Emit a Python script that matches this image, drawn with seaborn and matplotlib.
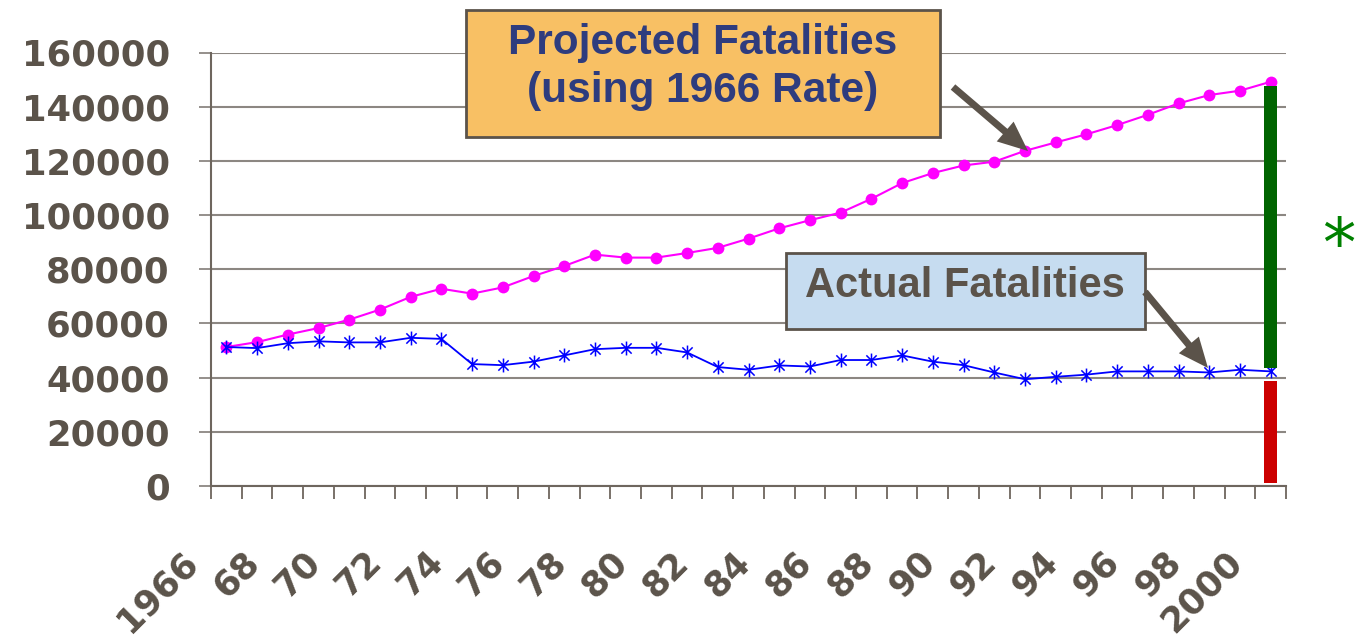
import numpy as np
import pandas as pd
import matplotlib
matplotlib.use("Agg")
import matplotlib.pyplot as plt
import seaborn as sns
from matplotlib.patches import Rectangle, FancyArrow
from matplotlib.path import Path
from matplotlib.transforms import ScaledTranslation, IdentityTransform

# ---------------- data ----------------
years = list(range(1966, 2001))
year_labels = ["1966", "68", "70", "72", "74", "76", "78", "80", "82", "84",
               "86", "88", "90", "92", "94", "96", "98", "2000"]
projected = [51300, 53100, 55900, 58300, 61400, 65100, 69800, 72800, 71000, 73300,
             77500, 81200, 85400, 84300, 84300, 86000, 87900, 91300, 95100, 98100,
             100900, 106000, 111800, 115500, 118300, 119700, 123700, 126800, 129800,
             133200, 137000, 141200, 144300, 145900, 149200]
actual = [51300, 50900, 52700, 53400, 53000, 53000, 54700, 54300, 45000, 44600,
          45900, 48200, 50500, 51000, 51000, 49300, 43900, 42900, 44500, 44100,
          46500, 46500, 48200, 45900, 44600, 41900, 39400, 40300, 41100, 42300,
          42300, 42300, 41900, 42900, 42300]
yticks = [0, 20000, 40000, 60000, 80000, 100000, 120000, 140000, 160000]
# vertical bars at year 2000: lives saved (green) and actual (red)
bar_bottoms = [43500, 1000]
bar_tops = [147500, 38800]
bar_colors = ["#006400", "#CC0000"]

TXT = "#5B534A"
GRID = "#8C8782"

sns.set_style("white")
plt.rcParams["font.family"] = ["DejaVu Sans"]

W, H = 1357, 636
fig = plt.figure(figsize=(W / 100, H / 100), dpi=100)
ax = fig.add_axes([211 / W, 1 - 486 / H, (1286 - 211) / W, (486 - 52.5) / H])

idx = np.arange(len(years))
df = pd.DataFrame({"i": idx, "projected": projected, "actual": actual})

sns.lineplot(data=df, x="i", y="projected", ax=ax, color="#FF00FF", lw=1.5,
             marker="o", markersize=8.5, markeredgewidth=0, zorder=4)

ast = Path([(-1, -1), (1, 1), (-1, 1), (1, -1), (0, -1.35), (0, 1.35)],
           [Path.MOVETO, Path.LINETO, Path.MOVETO, Path.LINETO, Path.MOVETO, Path.LINETO])
sns.lineplot(data=df, x="i", y="actual", ax=ax, color="#0000FF", lw=1.3,
             marker=ast, markersize=10, markeredgewidth=1.1,
             markerfacecolor="none", markeredgecolor="#0000FF", zorder=4)

for b, t, c in zip(bar_bottoms, bar_tops, bar_colors):
    ax.bar(idx[-1], t - b, bottom=b, width=0.4, color=c, zorder=5, linewidth=0)

ax.set_xlim(-0.5, len(years) - 0.5)
ax.set_ylim(0, 160000)
ax.set_xlabel("")
ax.set_ylabel("")

ax.set_yticks(yticks)
ax.set_yticklabels([str(v) for v in yticks], fontsize=25.5, fontweight="bold", color=TXT)
ax.grid(axis="y", color=GRID, lw=1.5)
ax.grid(axis="x", visible=False)
ax.set_axisbelow(True)

ax.set_xticks(idx[::2])
ax.set_xticklabels(year_labels, rotation=45, ha="right", va="top",
                   fontsize=25.5, fontweight="bold", color=TXT)
ax.set_xticks(np.arange(-0.5, len(years), 1), minor=True)
ax.tick_params(axis="x", which="major", length=0, pad=42, bottom=True)
ax.tick_params(axis="x", which="minor", length=9, width=1.3, color="#6E665E",
               direction="out", bottom=True)
ax.tick_params(axis="y", length=8.6, width=1.3, color=GRID, pad=21, direction="out", left=True)

off = ScaledTranslation(-22 / 100, 0, fig.dpi_scale_trans)
for lab in ax.get_xticklabels():
    lab.set_transform(lab.get_transform() + off)

for s in ["top", "right"]:
    ax.spines[s].set_visible(False)
for s in ["left", "bottom"]:
    ax.spines[s].set_color("#6E665E")
    ax.spines[s].set_linewidth(1.5)

# ---------------- annotation boxes ----------------
fig.add_artist(Rectangle((466 / W, 1 - 137 / H), 474 / W, 127 / H, transform=fig.transFigure,
                         fc="#F8C064", ec=TXT, lw=2, zorder=10))
fig.text(703 / W, 1 - 67 / H, "Projected Fatalities\n(using 1966 Rate)", ha="center", va="center",
         fontsize=30.5, fontweight="bold", color="#2E3C7E", family=["Liberation Sans", "DejaVu Sans"],
         linespacing=1.25, zorder=11)

fig.add_artist(Rectangle((786 / W, 1 - 329 / H), 359 / W, 76 / H, transform=fig.transFigure,
                         fc="#C6DCF0", ec=TXT, lw=2, zorder=10))
fig.text(965 / W, 1 - 297 / H, "Actual Fatalities", ha="center", va="baseline",
         fontsize=30, fontweight="bold", color=TXT, family=["Liberation Sans", "DejaVu Sans"],
         zorder=11)

for (x0, y0, x1, y1) in [(953, 87, 1028, 151), (1145, 292, 1208, 368)]:
    fig.add_artist(FancyArrow(x0, H - y0, x1 - x0, -(y1 - y0), width=7, head_width=26,
                              head_length=30, length_includes_head=True,
                              transform=IdentityTransform(), color=TXT, lw=0, zorder=12))

fig.text(1339 / W, 1 - 266 / H, "*", ha="center", va="baseline", fontsize=48,
         color="#008000", family=["DejaVu Sans"])

fig.savefig("out.png", dpi=100)
